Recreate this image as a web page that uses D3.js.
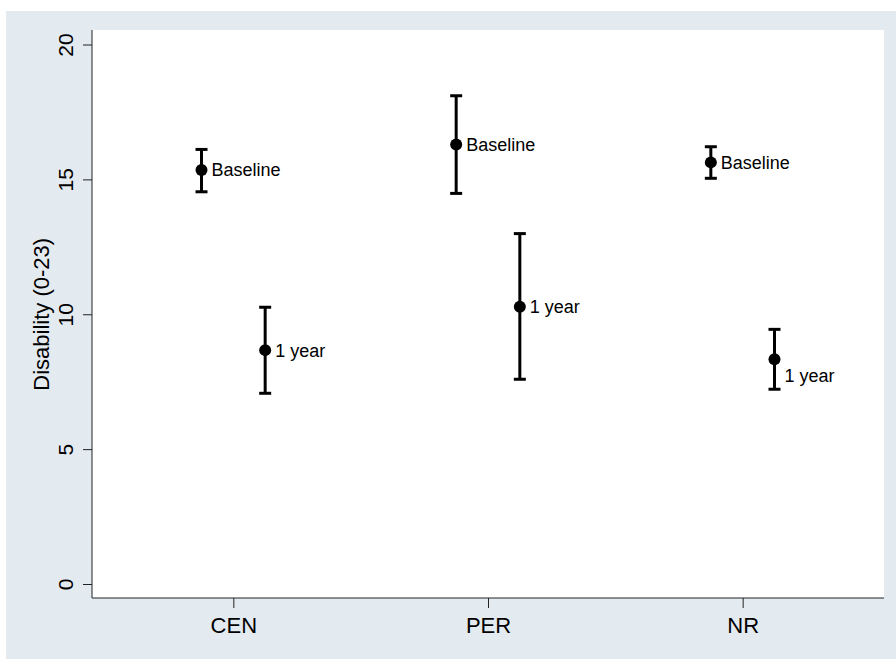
<!DOCTYPE html>
<html>
<head>
<meta charset="utf-8">
<script src="https://cdn.jsdelivr.net/npm/d3@7"></script>
<style>
  body { margin: 0; background: #fff; }
  text { font-family: "Liberation Sans", Arial, sans-serif; fill: #000; }
</style>
</head>
<body>
<div id="chart"></div>
<script>
const width = 896;
const height = 659;
const plot = {left: 92, right: 884, top: 30, bottom: 598};

// data
const groups = ["CEN", "PER", "NR"];
const times = ["Baseline", "1 year"];
const timeOffset = [-0.125, 0.125];
const means = [[15.35, 8.67], [16.29, 10.28], [15.63, 8.33]];
const upper = [[16.11, 10.26], [18.10, 12.99], [16.21, 9.44]];
const lower = [[14.54, 7.07], [14.48, 7.59], [15.04, 7.22]];
const labelClock = [[3, 3], [3, 3], [3, 4]];
const yTicks = [0, 5, 10, 15, 20];

const points = [];
groups.forEach((g, i) => {
  times.forEach((t, j) => {
    points.push({
      x: i + 1 + timeOffset[j],
      mean: means[i][j], hi: upper[i][j], lo: lower[i][j],
      label: t, clock: labelClock[i][j]
    });
  });
});

const x = d3.scaleLinear().domain([0.445, 3.555]).range([plot.left, plot.right]);
const y = d3.scaleLinear().domain([0, 20]).range([584, 44.5]);

const svg = d3.select("#chart").append("svg")
  .attr("width", width)
  .attr("height", height);

svg.append("rect")
  .attr("x", 6).attr("y", 11)
  .attr("width", width - 6).attr("height", height - 11)
  .attr("fill", "#e4ebf0");

svg.append("rect")
  .attr("x", plot.left).attr("y", plot.top)
  .attr("width", plot.right - plot.left).attr("height", plot.bottom - plot.top)
  .attr("fill", "#fff");

// y axis
const yAxis = svg.append("g")
  .attr("transform", "translate(" + plot.left + ",0)")
  .call(d3.axisLeft(y).tickValues(yTicks).tickSize(9).tickFormat(d3.format("d")));
yAxis.select(".domain").attr("d", "M0," + plot.top + "V" + plot.bottom)
  .attr("stroke", "#222");
yAxis.selectAll(".tick line").attr("stroke", "#222");
yAxis.selectAll(".tick text")
  .attr("x", null).attr("dy", null)
  .attr("transform", "translate(-19,0) rotate(-90)")
  .attr("text-anchor", "middle")
  .style("font-size", "21px");

svg.append("text")
  .attr("transform", "translate(49," + y(10) + ") rotate(-90)")
  .attr("text-anchor", "middle")
  .style("font-size", "22px")
  .text("Disability (0-23)");

// x axis
const xAxis = svg.append("g")
  .attr("transform", "translate(0," + plot.bottom + ")")
  .call(d3.axisBottom(x).tickValues([1, 2, 3]).tickSize(10)
    .tickFormat(d => groups[d - 1]));
xAxis.select(".domain").attr("d", "M" + plot.left + ",0H" + plot.right)
  .attr("stroke", "#222");
xAxis.selectAll(".tick line").attr("stroke", "#222");
xAxis.selectAll(".tick text")
  .attr("y", 35).attr("dy", null)
  .style("font-size", "22px");

// error bars
const bars = svg.append("g").attr("stroke", "#000").attr("stroke-width", 3);
bars.selectAll(".stem").data(points).join("line")
  .attr("x1", d => x(d.x)).attr("x2", d => x(d.x))
  .attr("y1", d => y(d.hi)).attr("y2", d => y(d.lo));
bars.selectAll(".capHi").data(points).join("line")
  .attr("x1", d => x(d.x) - 6).attr("x2", d => x(d.x) + 6)
  .attr("y1", d => y(d.hi)).attr("y2", d => y(d.hi));
bars.selectAll(".capLo").data(points).join("line")
  .attr("x1", d => x(d.x) - 6).attr("x2", d => x(d.x) + 6)
  .attr("y1", d => y(d.lo)).attr("y2", d => y(d.lo));

svg.append("g").selectAll("circle").data(points).join("circle")
  .attr("cx", d => x(d.x))
  .attr("cy", d => y(d.mean))
  .attr("r", 6)
  .attr("fill", "#000");

svg.append("g").selectAll("text").data(points).join("text")
  .attr("x", d => x(d.x) + 10)
  .attr("y", d => y(d.mean) + (d.clock == 4 ? 16 : 0))
  .attr("dy", "0.36em")
  .style("font-size", "18px")
  .text(d => d.label);
</script>
</body>
</html>
